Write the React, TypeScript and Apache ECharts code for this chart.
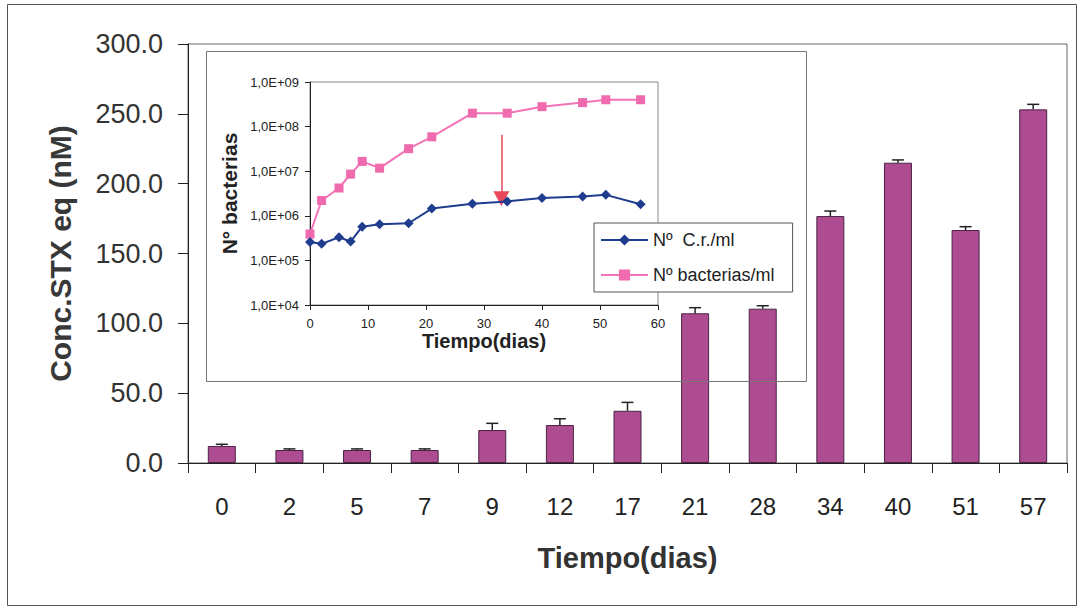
import React, { useEffect, useRef } from "react";
import * as echarts from "echarts";

// ---- Main chart data (bars) ----
const dayLabels = ["0", "2", "5", "7", "9", "12", "17", "21", "28", "34", "40", "51", "57"];
const stxMean = [12.2, 9.3, 9.3, 9.3, 23.6, 27.2, 37.4, 107.2, 110.5, 176.8, 215.0, 166.8, 253.2];
const stxErr = [1.2, 0.8, 0.8, 0.8, 4.8, 4.5, 6.0, 4.0, 2.1, 3.6, 2.0, 2.4, 3.6];
const mainYTicks = [0, 50, 100, 150, 200, 250, 300];

// ---- Inset chart data (log scale) ----
const insetDays = [0, 2, 5, 7, 9, 12, 17, 21, 28, 34, 40, 47, 51, 57];
const crPerMl = [2.6e5, 2.35e5, 3.3e5, 2.65e5, 5.7e5, 6.5e5, 6.8e5, 1.45e6, 1.87e6, 2.1e6, 2.5e6, 2.7e6, 2.95e6, 1.82e6];
const bacteriaPerMl = [3.9e5, 2.2e6, 4.2e6, 8.6e6, 1.66e7, 1.17e7, 3.2e7, 5.9e7, 2.0e8, 2.0e8, 2.8e8, 3.45e8, 4.0e8, 4.0e8];
const arrowDay = 33;
const arrowFrom = 6.6e7;
const arrowTo = 2.4e6;

const FONT = "'Liberation Sans', Arial, sans-serif";

export default function App() {
  const ref = useRef<HTMLDivElement>(null);

  useEffect(() => {
    if (!ref.current) return;
    const chart = echarts.init(ref.current, undefined, { renderer: "svg" });

    const errData = stxMean.map((m, i) => [i, m, stxErr[i]]);

    const option: any = {
      animation: false,
      backgroundColor: "#ffffff",
      textStyle: { fontFamily: FONT },
      grid: [
        {
          left: 188,
          top: 44,
          width: 879,
          height: 419,
          show: true,
          borderColor: "#666",
          borderWidth: 1,
          backgroundColor: "transparent",
        },
        {
          left: 310,
          top: 82,
          width: 348,
          height: 223,
          show: true,
          borderColor: "#888",
          borderWidth: 1,
          backgroundColor: "#ffffff",
        },
      ],
      xAxis: [
        {
          type: "category",
          gridIndex: 0,
          data: dayLabels,
          boundaryGap: true,
          axisLine: { lineStyle: { color: "#222", width: 1 } },
          axisTick: { show: true, length: 10, lineStyle: { color: "#222" } },
          axisLabel: { fontSize: 24, color: "#222", margin: 31, fontFamily: FONT },
          name: "Tiempo(dias)",
          nameLocation: "middle",
          nameGap: 80,
          nameTextStyle: { fontSize: 29, fontWeight: "bold", color: "#333", fontFamily: FONT },
          splitLine: { show: false },
        },
        {
          type: "value",
          gridIndex: 1,
          min: 0,
          max: 60,
          interval: 10,
          axisLine: { onZero: false, lineStyle: { color: "#222", width: 1 } },
          axisTick: { show: true, length: 5, lineStyle: { color: "#222" } },
          axisLabel: { fontSize: 13, color: "#222", margin: 12, fontFamily: FONT },
          name: "Tiempo(dias)",
          nameLocation: "middle",
          nameGap: 24,
          nameTextStyle: { fontSize: 20, fontWeight: "bold", color: "#222", fontFamily: FONT },
          splitLine: { show: false },
        },
      ],
      yAxis: [
        {
          type: "value",
          gridIndex: 0,
          min: mainYTicks[0],
          max: mainYTicks[mainYTicks.length - 1],
          interval: 50,
          axisLine: { show: true, lineStyle: { color: "#222", width: 1 } },
          axisTick: { show: true, length: 10, lineStyle: { color: "#222" } },
          axisLabel: {
            fontSize: 27,
            color: "#333",
            margin: 25,
            fontFamily: FONT,
            formatter: (v: number) => v.toFixed(1),
          },
          name: "Conc.STX eq (nM)",
          nameLocation: "middle",
          nameGap: 113,
          nameTextStyle: { fontSize: 30, fontWeight: "bold", color: "#383838", fontFamily: FONT },
          splitLine: { show: false },
        },
        {
          type: "log",
          logBase: 10,
          gridIndex: 1,
          min: 1e4,
          max: 1e9,
          axisLine: { show: true, onZero: false, lineStyle: { color: "#222", width: 1 } },
          axisTick: { show: true, length: 5, lineStyle: { color: "#222" } },
          axisLabel: {
            fontSize: 13,
            color: "#222",
            margin: 11,
            fontFamily: FONT,
            formatter: (v: number) => {
              const e = Math.round(Math.log10(v));
              return "1,0E+" + (e < 10 ? "0" + e : String(e));
            },
          },
          name: "N° bacterias",
          nameLocation: "middle",
          nameGap: 70,
          nameTextStyle: { fontSize: 21, fontWeight: "bold", color: "#222", fontFamily: FONT },
          splitLine: { show: false },
        },
      ],
      legend: {
        data: ["Nº  C.r./ml", "Nº bacterias/ml"],
        orient: "vertical",
        left: 594,
        top: 223,
        backgroundColor: "#ffffff",
        borderColor: "#555",
        borderWidth: 1,
        borderRadius: 0,
        padding: [8, 18, 8, 6],
        itemWidth: 47,
        itemHeight: 14,
        itemGap: 17,
        textStyle: { fontSize: 18, color: "#222", fontFamily: FONT },
      },
      series: [
        {
          type: "bar",
          xAxisIndex: 0,
          yAxisIndex: 0,
          data: stxMean,
          barWidth: 28,
          itemStyle: { color: "#AD4C90", borderColor: "#4B2346", borderWidth: 1 },
          z: 2,
        },
        {
          type: "custom",
          xAxisIndex: 0,
          yAxisIndex: 0,
          data: errData,
          z: 3,
          renderItem: (params: any, api: any) => {
            const idx = api.value(0);
            const m = api.value(1);
            const e = api.value(2);
            const p0 = api.coord([idx, m]);
            const p1 = api.coord([idx, m + e]);
            const hw = 6;
            const st = { stroke: "#222", lineWidth: 1.5 };
            return {
              type: "group",
              children: [
                { type: "line", shape: { x1: p0[0], y1: p0[1], x2: p1[0], y2: p1[1] }, style: st },
                { type: "line", shape: { x1: p1[0] - hw, y1: p1[1], x2: p1[0] + hw, y2: p1[1] }, style: st },
              ],
            };
          },
        },
        {
          name: "Nº  C.r./ml",
          type: "line",
          xAxisIndex: 1,
          yAxisIndex: 1,
          data: insetDays.map((d, i) => [d, crPerMl[i]]),
          symbol: "diamond",
          symbolSize: 10,
          lineStyle: { color: "#1F3C8F", width: 2 },
          itemStyle: { color: "#1F3C8F" },
          z: 5,
        },
        {
          name: "Nº bacterias/ml",
          type: "line",
          xAxisIndex: 1,
          yAxisIndex: 1,
          data: insetDays.map((d, i) => [d, bacteriaPerMl[i]]),
          symbol: "rect",
          symbolSize: 9,
          lineStyle: { color: "#F472B6", width: 2 },
          itemStyle: { color: "#F06AAE" },
          z: 4,
          markLine: {
            silent: true,
            animation: false,
            label: { show: false },
            lineStyle: { color: "#E8485A", width: 1.5, type: "solid" },
            data: [
              [
                { coord: [arrowDay, arrowFrom], symbol: "none" },
                { coord: [arrowDay, arrowTo], symbol: "triangle", symbolSize: [16, 15], itemStyle: { color: "#F04A3A" } },
              ],
            ],
          },
        },
      ],
      graphic: [
        {
          type: "rect",
          shape: { x: 7.5, y: 4.5, width: 1069, height: 601 },
          style: { fill: "none", stroke: "#555", lineWidth: 1 },
          z: 0,
          silent: true,
        },
        {
          type: "rect",
          shape: { x: 206.5, y: 51.5, width: 600, height: 330 },
          style: { fill: "none", stroke: "#777", lineWidth: 1 },
          z: 10,
          silent: true,
        },
      ],
    };

    chart.setOption(option);
    return () => chart.dispose();
  }, []);

  return (
    <div
      ref={ref}
      style={{ position: "absolute", left: 0, top: 0, width: 1080, height: 613 }}
    />
  );
}
